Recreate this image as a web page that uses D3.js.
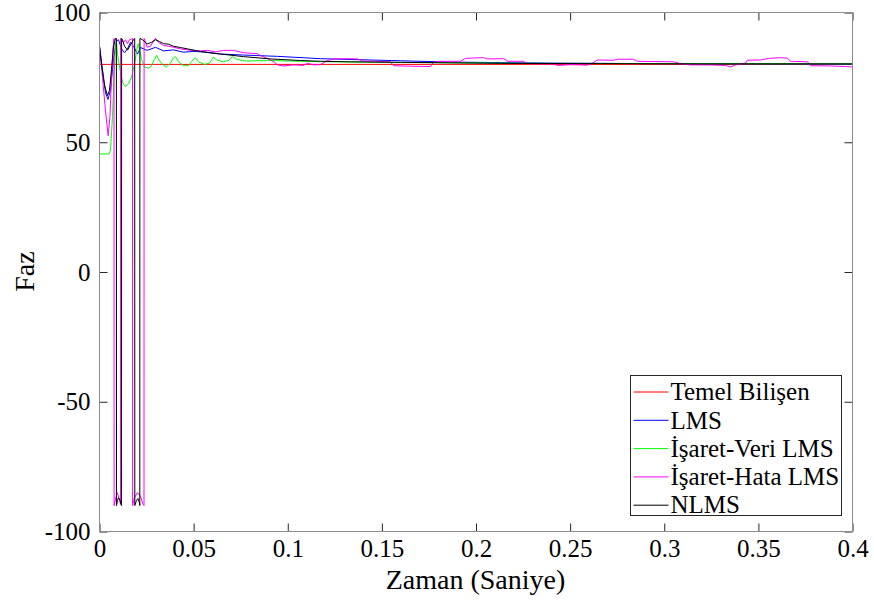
<!DOCTYPE html>
<html>
<head>
<meta charset="utf-8">
<script src="https://cdn.jsdelivr.net/npm/d3@7"></script>
<style>
  body { margin: 0; background: #fff; }
  text { font-family: "Liberation Serif", "Times New Roman", serif; fill: #000; }
</style>
</head>
<body>
<svg id="chart" width="874" height="614"></svg>
<script>
// tick values / labels
const xTicks = [0, 0.05, 0.1, 0.15, 0.2, 0.25, 0.3, 0.35, 0.4]
const xTickLabels = ["0", "0.05", "0.1", "0.15", "0.2", "0.25", "0.3", "0.35", "0.4"]
const yTicks = [-100, -50, 0, 50, 100]
const yTickLabels = ["-100", "-50", "0", "50", "100"]

const seriesNames = ["Temel Bilişen", "LMS", "İşaret-Veri LMS", "İşaret-Hata LMS", "NLMS"]
const seriesColors = ["#ff0000", "#0000ff", "#00ff00", "#ff00ff", "#000000"]

// Temel Bilişen
const temelT = [0, 0.4]
const temelV = [80, 80]

// LMS
const lmsT = [0, 0.0016, 0.00319, 0.00452, 0.00584, 0.00744, 0.00903, 0.01009, 0.01169, 0.01328,
  0.01487, 0.01647, 0.01806, 0.02019, 0.02178, 0.02534, 0.02975, 0.034, 0.03931, 0.04462,
  0.04993, 0.05737, 0.06428, 0.07649, 0.09456, 0.1174, 0.15989, 0.18645, 0.23958, 0.2927, 0.4]
const lmsV = [87, 78, 69, 66.5, 70, 82, 89, 89.5, 86, 84.5,
  86, 88.5, 87, 84, 86.5, 85.4, 86.6, 85.2, 85.6, 84.7,
  85, 84.7, 84, 83.6, 83.1, 82.2, 81.4, 80.9, 80.5, 80.3, 80.1]

// İşaret-Veri LMS
const veriT = [0, 0.00505, 0.00584, 0.00691, 0.0077, 0.0085, 0.00903, 0.00956, 0.01089, 0.01222,
  0.01381, 0.0154, 0.017, 0.01859, 0.01965, 0.02056, 0.02125, 0.02231, 0.0239, 0.02603,
  0.02762, 0.02922, 0.03028, 0.03134, 0.03347, 0.03559, 0.03772, 0.03931, 0.04037, 0.04197,
  0.04462, 0.04728, 0.0494, 0.051, 0.05259, 0.05578, 0.05843, 0.06056, 0.06215, 0.06534,
  0.06853, 0.07065, 0.07278, 0.07756, 0.09084, 0.10677, 0.13333, 0.18645, 0.23958, 0.31926, 0.4]
const veriV = [45.5, 45.5, 47, 60, 75, 87, 89, 84, 78, 73,
  71.5, 72.5, 75, 80, 85, 88, 86, 82, 79, 78.5,
  79.5, 82, 83.5, 82, 80, 79, 80.5, 82.5, 83, 81,
  79.5, 79.5, 81.5, 82.5, 81, 80, 80.5, 82.8, 81.8, 81,
  81.5, 83, 82, 81.3, 81.5, 81.2, 80.9, 80.6, 80.4, 80.3, 80.2]

// İşaret-Hata LMS
const hataT = [0, 0.00159, 0.00319, 0.00462, 0.00558, 0.00637, 0.00717, 0.0077, 0.00776, 0.0085,
  0.0094, 0.01036, 0.01116, 0.01121, 0.01195, 0.01275, 0.01381, 0.01487, 0.01594, 0.017,
  0.01753, 0.01758, 0.01859, 0.02019, 0.02178, 0.02311, 0.02364, 0.02369, 0.02534, 0.02709,
  0.02869, 0.02975, 0.03134, 0.034, 0.03665, 0.03931, 0.04303, 0.04834, 0.05365, 0.05737,
  0.06162, 0.06587, 0.07118, 0.07649, 0.08393, 0.08552, 0.08977, 0.09296, 0.09456, 0.09774,
  0.10305, 0.10837, 0.11049, 0.11368, 0.1174, 0.12112, 0.1243, 0.13068, 0.13705, 0.13971,
  0.14661, 0.15458, 0.15618, 0.16521, 0.17583, 0.17742, 0.18114, 0.19177, 0.19442, 0.19973,
  0.20398, 0.20611, 0.21461, 0.21673, 0.22523, 0.22736, 0.24117, 0.24329, 0.2502, 0.25923,
  0.26189, 0.26454, 0.27304, 0.27517, 0.28367, 0.28579, 0.30492, 0.30863, 0.31394, 0.32457,
  0.33254, 0.3352, 0.33785, 0.34316, 0.34422, 0.35113, 0.35538, 0.36175, 0.36547, 0.36706,
  0.3761, 0.37769, 0.38831, 0.39628, 0.4]
const hataV = [87, 75, 62, 52.5, 60, 75, 86, 90, -90, -87.5,
  -85, -87, -89.5, 90, 89, 88.5, 89.5, 88, 89.5, 89.8,
  90, -90, -87, -85, -86.5, -89.5, -90, 90, 86.6, 87,
  89, 90, 88.5, 87.3, 87, 86.6, 86, 85.4, 85.2, 85.4,
  84.8, 85.4, 85.4, 84.5, 84.1, 83.4, 82.1, 80.8, 79.8, 79.4,
  79.8, 79.6, 80.5, 79.8, 79.9, 81.5, 82.1, 82.2, 82.1, 81.3,
  81.2, 81, 79.5, 79.3, 79.2, 80.8, 81.2, 81.2, 82.3, 82.5,
  82.6, 82.1, 82.2, 81.2, 81.2, 80.3, 80.2, 79.6, 79.9, 79.7,
  80.5, 81.7, 81.6, 82, 82, 81.2, 81, 80.3, 79.8, 79.8,
  79.6, 79, 79.8, 80.5, 81.6, 81.7, 82.3, 82.6, 82.4, 81.2,
  81, 79.5, 79.4, 79.2, 79]

// NLMS
const nlmsT = [0, 0.00106, 0.00266, 0.00425, 0.00531, 0.00637, 0.00744, 0.0085, 0.00898, 0.00903,
  0.00956, 0.01009, 0.01089, 0.01169, 0.01174, 0.01222, 0.01328, 0.01487, 0.01647, 0.01806,
  0.0187, 0.01875, 0.01965, 0.02045, 0.02125, 0.02141, 0.02146, 0.02284, 0.02534, 0.02762,
  0.02975, 0.03187, 0.034, 0.03665, 0.03931, 0.04303, 0.04659, 0.05365, 0.05896, 0.06428,
  0.07649, 0.09084, 0.10677, 0.1174, 0.13333, 0.15989, 0.18645, 0.21301, 0.26614, 0.31926, 0.4]
const nlmsV = [87, 80, 72, 68, 70, 78, 87, 90, 90, -90,
  -88, -87, -88, -90, 90, 89.5, 87, 85.5, 87.5, 89.5,
  90, -90, -88, -87.3, -89, -90, 90, 89.5, 87.9, 88.5,
  89.5, 88.8, 88, 87.8, 87, 86.5, 86, 85, 84.4, 84,
  83, 82.1, 81.5, 81.2, 81, 80.8, 80.6, 80.4, 80.3, 80.2, 80.2]

const seriesT = [temelT, lmsT, veriT, hataT, nlmsT]
const seriesV = [temelV, lmsV, veriV, hataV, nlmsV]

const margin = { left: 99, top: 12, right: 22, bottom: 83 }
const width = 874 - margin.left - margin.right
const height = 614 - margin.top - margin.bottom

const svg = d3.select("#chart")
const g = svg.append("g")
  .attr("transform", `translate(${margin.left + 0.5}, ${margin.top + 0.5})`)

const x = d3.scaleLinear().domain([0, 0.4]).range([0, width])
const y = d3.scaleLinear().domain([-100, 100]).range([height, 0])

// series
const line = d3.line()
  .x(d => x(d[0]))
  .y(d => y(d[1]))

seriesT.forEach((ts, i) => {
  const pts = ts.map((t, k) => [t, seriesV[i][k]])
  g.append("path")
    .datum(pts)
    .attr("fill", "none")
    .attr("stroke", seriesColors[i])
    .attr("stroke-width", 1)
    .attr("stroke-linejoin", "round")
    .attr("d", line)
})

// axes, ticks inside like matlab
const fmtX = (d, i) => xTickLabels[i]
const fmtY = (d, i) => yTickLabels[i]

const styleAxis = sel => {
  sel.attr("font-family", null)
  sel.select(".domain").remove()
  sel.selectAll(".tick line").attr("stroke", "#262626")
  sel.selectAll(".tick text")
    .style("font-family", '"Liberation Serif", serif')
    .style("font-size", "25px")
    .attr("fill", "#000")
}

g.append("g")
  .attr("transform", `translate(0, ${height})`)
  .call(d3.axisBottom(x).tickValues(xTicks).tickFormat(fmtX).tickSizeInner(-8).tickSizeOuter(0).tickPadding(8))
  .call(styleAxis)

g.append("g")
  .call(d3.axisLeft(y).tickValues(yTicks).tickFormat(fmtY).tickSizeInner(-8).tickSizeOuter(0).tickPadding(9))
  .call(styleAxis)

g.append("g")
  .call(d3.axisTop(x).tickValues(xTicks).tickFormat("").tickSizeInner(-8).tickSizeOuter(0))
  .call(styleAxis)

g.append("g")
  .attr("transform", `translate(${width}, 0)`)
  .call(d3.axisRight(y).tickValues(yTicks).tickFormat("").tickSizeInner(-8).tickSizeOuter(0))
  .call(styleAxis)

g.append("rect")
  .attr("width", width)
  .attr("height", height)
  .attr("fill", "none")
  .attr("stroke", "#8c8c8c")
  .attr("stroke-width", 1)

// axis titles
svg.append("text")
  .attr("x", margin.left + width / 2)
  .attr("y", 589)
  .attr("text-anchor", "middle")
  .style("font-size", "28px")
  .text("Zaman (Saniye)")

svg.append("text")
  .attr("transform", `translate(34, ${margin.top + height / 2}) rotate(-90)`)
  .attr("text-anchor", "middle")
  .style("font-size", "28px")
  .text("Faz")

// legend
const legend = svg.append("g").attr("transform", "translate(630.5, 375.5)")
legend.append("rect")
  .attr("width", 211)
  .attr("height", 140)
  .attr("fill", "#fff")
  .attr("stroke", "#262626")
  .attr("stroke-width", 1)

seriesNames.forEach((name, i) => {
  const row = legend.append("g").attr("transform", `translate(0, ${16.5 + i * 28.3})`)
  row.append("line")
    .attr("x1", 3).attr("x2", 38)
    .attr("stroke", seriesColors[i])
    .attr("stroke-width", 1)
  row.append("text")
    .attr("x", 40)
    .attr("dy", "0.33em")
    .style("font-size", "25px")
    .text(name)
})
</script>
</body>
</html>
